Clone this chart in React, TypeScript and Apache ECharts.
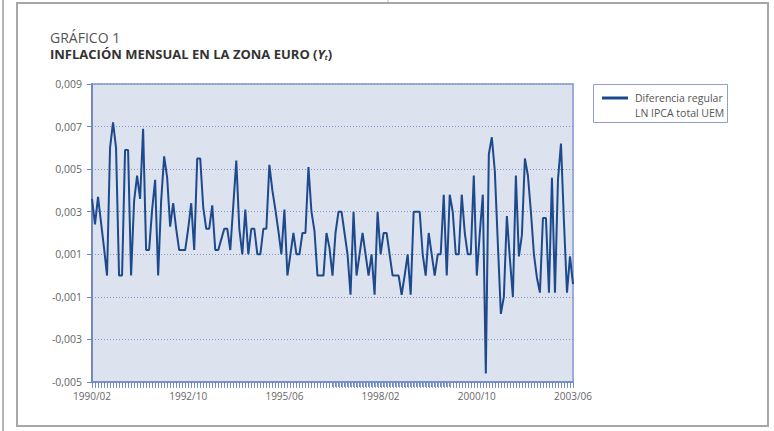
import React, { useEffect, useRef } from "react";
import * as echarts from "echarts";

// Monthly log-difference of the euro-area HICP, 1990/02 – 2003/06
const START_YEAR = 1990;
const START_MONTH = 2;
const inflation: number[] = [
  0.0036, 0.0024, 0.0037, 0.0025, 0.0013, 0.0000, 0.0060, 0.0072, 0.0060, 0.0000,
  0.0000, 0.0059, 0.0059, 0.0000, 0.0035, 0.0047, 0.0036, 0.0069, 0.0012, 0.0012,
  0.0031, 0.0045, 0.0000, 0.0035, 0.0056, 0.0046, 0.0023, 0.0034, 0.0022, 0.0012,
  0.0012, 0.0012, 0.0022, 0.0034, 0.0012, 0.0055, 0.0055, 0.0032, 0.0022, 0.0022,
  0.0033, 0.0012, 0.0012, 0.0017, 0.0022, 0.0022, 0.0012, 0.0033, 0.0054, 0.0022,
  0.0010, 0.0031, 0.0010, 0.0022, 0.0022, 0.0010, 0.0010, 0.0022, 0.0022, 0.0052,
  0.0040, 0.0031, 0.0021, 0.0010, 0.0031, 0.0000, 0.0010, 0.0020, 0.0010, 0.0010,
  0.0020, 0.0020, 0.0051, 0.0030, 0.0021, 0.0000, 0.0000, 0.0000, 0.0020, 0.0013,
  0.0000, 0.0020, 0.0030, 0.0030, 0.0020, 0.0010, -0.0009, 0.0030, 0.0000, 0.0010,
  0.0020, 0.0010, 0.0000, 0.0010, -0.0009, 0.0030, 0.0010, 0.0020, 0.0020, 0.0010,
  0.0000, 0.0000, 0.0000, -0.0009, 0.0000, 0.0010, -0.0009, 0.0030, 0.0030, 0.0030,
  0.0010, 0.0000, 0.0020, 0.0010, 0.0000, 0.0010, 0.0010, 0.0038, 0.0000, 0.0038,
  0.0030, 0.0010, 0.0010, 0.0038, 0.0020, 0.0010, 0.0010, 0.0047, 0.0000, 0.0020,
  0.0038, -0.0046, 0.0057, 0.0065, 0.0049, 0.0015, -0.0018, -0.0010, 0.0028, 0.0008,
  -0.0010, 0.0047, 0.0009, 0.0019, 0.0055, 0.0047, 0.0030, 0.0010, -0.0001, -0.0008,
  0.0027, 0.0027, -0.0008, 0.0046, -0.0008, 0.0045, 0.0062, 0.0025, -0.0008, 0.0009,
  -0.0004,
];

// Month labels "YYYY/MM" for every observation
const months: string[] = inflation.map((_, i) => {
  const m0 = START_MONTH - 1 + i;
  const y = START_YEAR + Math.floor(m0 / 12);
  const m = (m0 % 12) + 1;
  return `${y}/${m < 10 ? "0" + m : m}`;
});

const xTickLabels = ["1990/02", "1992/10", "1995/06", "1998/02", "2000/10", "2003/06"];

const Y_MIN = -0.005;
const Y_MAX = 0.009;
const Y_STEP = 0.002;

const seriesName = "Diferencia regular\nLN IPCA total UEM";

const FONT = "'Open Sans', 'Noto Sans', sans-serif";
const LINE_COLOR = "#1d4a8c";
const TICK_COLOR = "#7088c4";

export default function App() {
  const ref = useRef<HTMLDivElement>(null);

  useEffect(() => {
    if (!ref.current) return;
    const chart = echarts.init(ref.current, undefined, { renderer: "svg" });

    const option: echarts.EChartsOption = {
      animation: false,
      backgroundColor: "#ffffff",
      textStyle: { fontFamily: FONT },
      grid: {
        left: 92,
        top: 84,
        width: 481,
        height: 298,
        show: true,
        backgroundColor: "#dde2ef",
        borderColor: "#9cadd7",
        borderWidth: 2,
      },
      xAxis: {
        type: "category",
        data: months,
        boundaryGap: false,
        axisLine: { show: true, onZero: false, lineStyle: { color: "#7088c4", width: 1.5 } },
        axisTick: {
          show: true,
          interval: 0,
          inside: false,
          length: 5,
          lineStyle: { color: TICK_COLOR, width: 1 },
        },
        axisLabel: {
          interval: (idx: number, value: string) => xTickLabels.includes(value),
          color: "#666",
          fontSize: 10,
          fontFamily: FONT,
          margin: 9,
        },
        splitLine: { show: false },
      },
      yAxis: [
        {
          // scale carrying the data values
          type: "value",
          min: Y_MIN,
          max: Y_MAX,
          show: false,
        },
        {
          // visible scale, offset so ticks fall on -0,005 … 0,009
          type: "value",
          position: "left",
          min: 0,
          max: Y_MAX - Y_MIN,
          interval: Y_STEP,
          axisLine: { show: true, lineStyle: { color: "#7088c4", width: 2 } },
          axisTick: { show: true, length: 5, lineStyle: { color: "#7088c4" } },
          axisLabel: {
            color: "#666",
            fontSize: 10.5,
            fontFamily: FONT,
            margin: 10,
            formatter: (v: number) =>
              (Math.round((v + Y_MIN) * 1000) / 1000).toFixed(3).replace(".", ","),
          },
          splitLine: {
            show: true,
            lineStyle: { color: "#8494cc", type: [1, 2], width: 1 },
          },
        },
      ],
      series: [
        {
          // one short tick below the axis for every month
          type: "custom",
          xAxisIndex: 0,
          yAxisIndex: 0,
          silent: true,
          clip: false,
          z: 10,
          data: months.map((_, i) => [i, Y_MIN]),
          renderItem: (params: any, api: any) => {
            const p = api.coord([api.value(0), api.value(1)]);
            const x = Math.round(p[0]) + 0.5;
            return {
              type: "line",
              shape: { x1: x, y1: p[1] + 1, x2: x, y2: p[1] + 6 },
              style: { stroke: TICK_COLOR, lineWidth: 1, opacity: 0.8 },
            };
          },
        },
        {
          name: seriesName,
          type: "line",
          xAxisIndex: 0,
          yAxisIndex: 0,
          data: inflation,
          symbol: "none",
          lineStyle: { color: LINE_COLOR, width: 2 },
          itemStyle: { color: LINE_COLOR },
        },
      ],
      graphic: [
        {
          type: "line",
          shape: { x1: 3, y1: 0, x2: 3, y2: 431 },
          style: { stroke: "#b4b4b4", lineWidth: 2 },
          silent: true,
        },
        {
          type: "line",
          shape: { x1: 388, y1: 0, x2: 388, y2: 3 },
          style: { stroke: "#b4b4b4", lineWidth: 1 },
          silent: true,
        },
        {
          type: "rect",
          shape: { x: 17, y: 3, width: 751, height: 423 },
          style: { fill: "none", stroke: "#a6a6a6", lineWidth: 2 },
          silent: true,
        },
        {
          type: "text",
          x: 50,
          y: 37,
          style: {
            text: "GRÁFICO 1",
            font: `14px ${FONT}`,
            fill: "#555",
            verticalAlign: "middle",
          },
        },
        {
          type: "text",
          x: 50,
          y: 54,
          style: {
            text: "{b|INFLACIÓN MENSUAL EN LA ZONA EURO (}{i|Y}{s|t}{b|)}",
            verticalAlign: "middle",
            rich: {
              b: { fontFamily: FONT, fontWeight: "bold", fontSize: 13, fill: "#333", lineHeight: 16 },
              i: { fontFamily: FONT, fontWeight: "bold", fontStyle: "italic", fontSize: 13, fill: "#333", lineHeight: 16 },
              s: { fontFamily: FONT, fontWeight: "bold", fontStyle: "italic", fontSize: 7, fill: "#333", lineHeight: 16, padding: [7, 0, 0, 0] },
            },
          },
        },
        {
          type: "rect",
          shape: { x: 593.5, y: 84.5, width: 134, height: 38 },
          style: { fill: "#ffffff", stroke: "#8fa0cc", lineWidth: 1 },
          silent: true,
        },
        {
          type: "line",
          shape: { x1: 602, y1: 98, x2: 628, y2: 98 },
          style: { stroke: LINE_COLOR, lineWidth: 3 },
          silent: true,
        },
        {
          type: "text",
          x: 635,
          y: 90,
          style: {
            text: seriesName,
            font: `10.5px ${FONT}`,
            lineHeight: 15,
            fill: "#555",
            verticalAlign: "top",
          },
        },
      ],
    };

    chart.setOption(option);
    return () => chart.dispose();
  }, []);

  return (
    <div
      ref={ref}
      style={{ position: "fixed", left: 0, top: 0, width: 774, height: 431 }}
    />
  );
}
